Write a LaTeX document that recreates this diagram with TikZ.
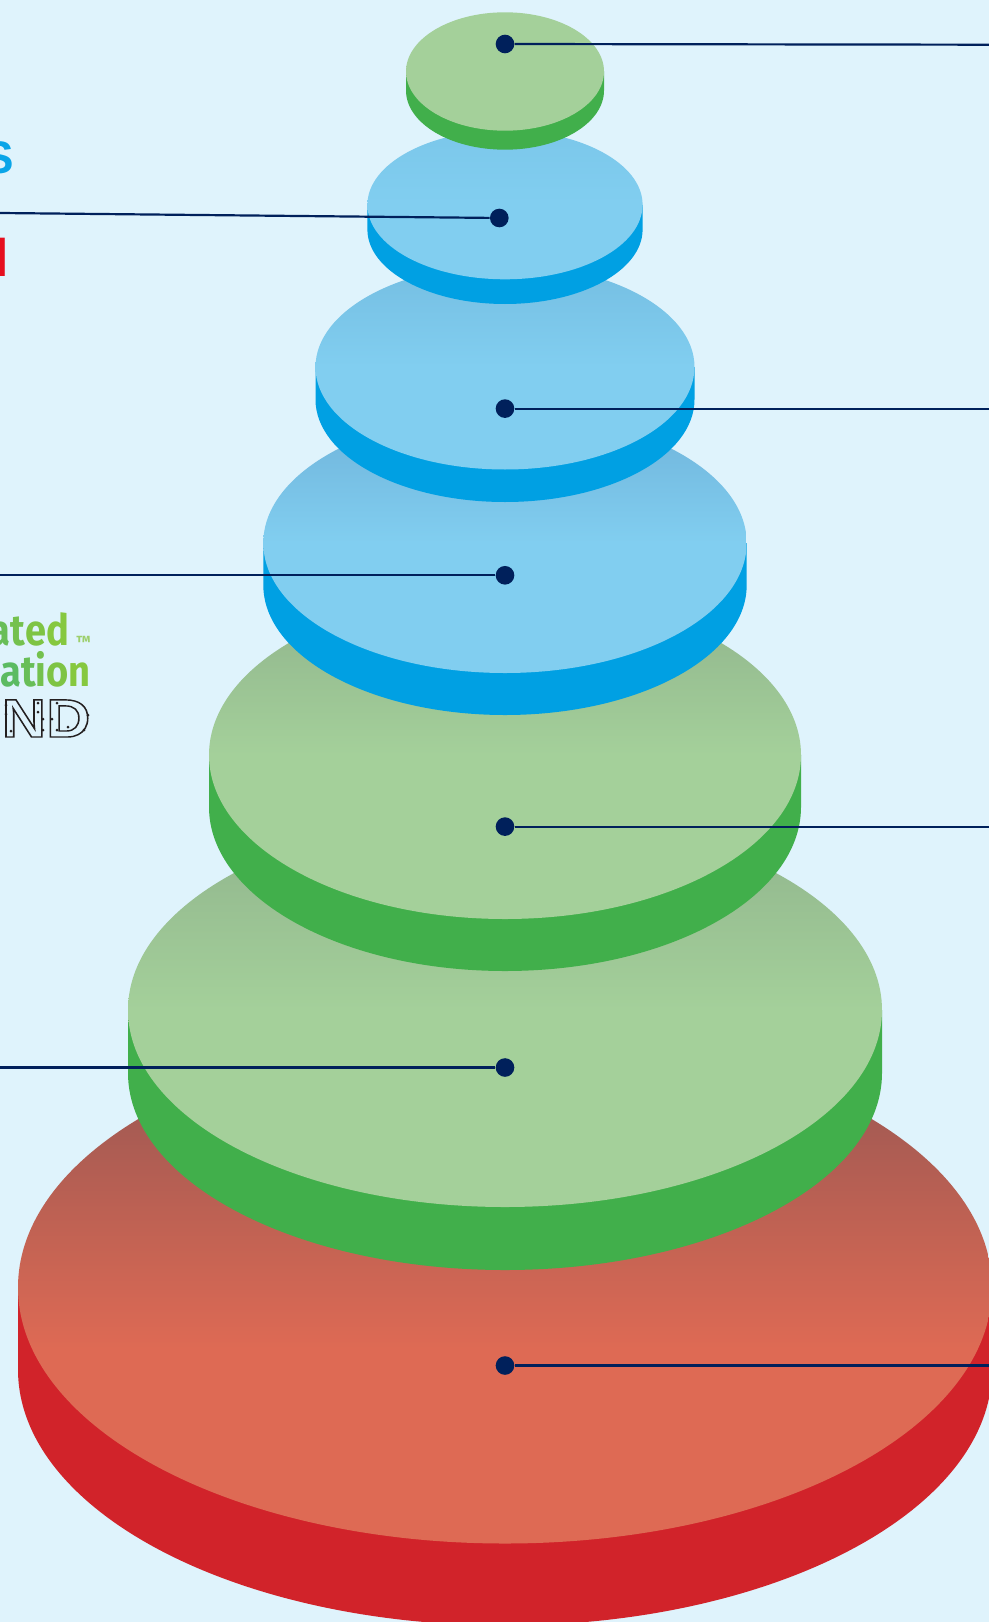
\documentclass[tikz,border=0pt]{standalone}
\usepackage{fontspec}
\setmainfont{Liberation Sans}
\newfontfamily\firafont{Fira Sans}
\definecolor{SkyBack}{RGB}{223,243,252}
\definecolor{DiskNavy}{RGB}{0,32,91}
\definecolor{RedSide}{RGB}{209,35,42}
\definecolor{RedFace}{RGB}{222,106,84}
\definecolor{RedDark}{RGB}{145,85,82}
\definecolor{GreenSide}{RGB}{65,175,75}
\definecolor{GreenFace}{RGB}{164,208,154}
\definecolor{GreenDark}{RGB}{143,179,140}
\definecolor{BlueSide}{RGB}{0,160,227}
\definecolor{BlueFace}{RGB}{129,206,240}
\definecolor{BlueDark}{RGB}{111,179,218}
\definecolor{BlueMid}{RGB}{117,190,226}
\definecolor{BlueSoft}{RGB}{123,199,234}
\definecolor{TagBlue}{RGB}{10,165,232}
\definecolor{TagRed}{RGB}{230,14,30}
\definecolor{TagLight}{RGB}{156,207,107}
\definecolor{TagA}{RGB}{92,187,98}
\definecolor{TagB}{RGB}{104,190,88}
\definecolor{TagC}{RGB}{116,193,78}
\definecolor{TagD}{RGB}{126,196,68}
\definecolor{TagE}{RGB}{134,200,63}
\definecolor{LogoInk}{RGB}{35,31,32}
\pgfdeclareverticalshading{redshade}{100bp}{color(0bp)=(RedFace); color(44bp)=(RedFace); color(75bp)=(RedDark); color(100bp)=(RedDark)}
\pgfdeclareverticalshading{greenshade}{100bp}{color(0bp)=(GreenFace); color(50bp)=(GreenFace); color(75bp)=(GreenDark); color(100bp)=(GreenDark)}
\pgfdeclareverticalshading{greenplain}{100bp}{color(0bp)=(GreenFace); color(100bp)=(GreenFace)}
\pgfdeclareverticalshading{blueshade}{100bp}{color(0bp)=(BlueFace); color(50bp)=(BlueFace); color(75bp)=(BlueDark); color(100bp)=(BlueDark)}
\pgfdeclareverticalshading{bluemid}{100bp}{color(0bp)=(BlueFace); color(50bp)=(BlueFace); color(75bp)=(BlueMid); color(100bp)=(BlueMid)}
\pgfdeclareverticalshading{bluesoft}{100bp}{color(0bp)=(BlueFace); color(50bp)=(BlueFace); color(75bp)=(BlueSoft); color(100bp)=(BlueSoft)}
\tikzset{
  dotpin/.style={circle, fill=DiskNavy, inner sep=0pt, minimum size=10.6pt},
  leaderline/.style={draw=DiskNavy, line width=1.25pt},
  cuttag/.style={font=\bfseries, inner sep=0pt, anchor=base east},
  greentag/.style={font=\firafont\bfseries\fontsize{24.6}{26}\selectfont, inner sep=0pt,
                   anchor=base east, xscale=.88, transform shape},
}
\newcommand{\outlinetext}[1]{\special{pdf:code 1 Tr 0.8 w}#1\special{pdf:code 0 Tr}}
\begin{document}
\begin{tikzpicture}[x=0.02cm, y=-0.02cm]
  \useasboundingbox (0,0) rectangle (989,1622);
  \clip (0,0) rectangle (989,1622);
  \fill[SkyBack] (0,0) rectangle (989,1622);

  % ------------------------------------------------------------------ disks, bottom to top
  \foreach \cy/\rx/\ry/\dep/\side/\face in {
      1287.5/487/256/82/RedSide/redshade,
      1010/377/197/63/GreenSide/greenshade,
      755/296/164/52/GreenSide/greenshade,
      543/241.7/130/42/BlueSide/blueshade,
      367/189.5/102.5/32.5/BlueSide/bluemid,
      204.8/137.6/74.5/24.7/BlueSide/bluesoft,
      71.5/99/59.2/19/GreenSide/greenplain}{
    \fill[\side] (505-\rx,\cy) -- ++(0,\dep) arc[start angle=180, end angle=0, x radius=\rx, y radius=\ry]
      -- ++(0,-\dep) -- cycle;
    \shade[shading=\face] (505,\cy) ellipse[x radius=\rx, y radius=\ry];
  }

  % ------------------------------------------------------------------ cut off labels
  \node[cuttag, text=TagBlue, font=\bfseries\fontsize{26}{28}\selectfont] (tagblue) at (14.5,174) {S};
  \node[cuttag, text=TagRed, font=\bfseries\fontsize{31.7}{33}\selectfont] (tagred) at (8.9,276.7) {I};
  \node[greentag] (tagated) at (69.5,645)
    {{\color{TagB}a}{\color{TagC}t}{\color{TagD}e}{\color{TagE}d}};
  \node[greentag] (tagation) at (91,686)
    {{\color{TagA}a}{\color{TagB}t}{\color{TagC}i}{\color{TagD}o}{\color{TagE}n}};
  \node[font=\firafont\bfseries\fontsize{9.2}{10}\selectfont, text=TagLight, inner sep=0pt, anchor=east] (tagtm) at (91,642) {™};
  % outlined logo letters with their small dots
  \node[inner sep=0pt, anchor=base west, text=LogoInk, xscale=1.13, transform shape,
        font=\bfseries\fontsize{30.7}{32}\selectfont] (tagnd) at (1.5,737)
    {\outlinetext{N\kern.2pt D}};
  \foreach \x/\y in {6/705, 6/714, 11/731, 38/703, 38/712, 43/719, 43/730, 57/703, 52/719, 57/730, 68/727, 84/730, 88/715}{
    \fill[LogoInk] (\x,\y) circle[radius=1.5];
  }

  % ------------------------------------------------------------------ pins and leaders
  \foreach \i/\x/\y in {1/505/44, 2/499.3/218, 3/505/408.6, 4/505/575.3, 5/505/826.6, 6/505/1067.5, 7/505/1365.5}{
    \node[dotpin] (pin\i) at (\x,\y) {};
  }
  \coordinate (edge1) at (989,44.7);
  \coordinate (edge2) at (0,213);
  \coordinate (edge3) at (989,408.6);
  \coordinate (edge4) at (0,575.3);
  \coordinate (edge5) at (989,826.6);
  \coordinate (edge6) at (0,1067.5);
  \coordinate (edge7) at (989,1365.5);
  \foreach \i in {1,...,7}{
    \draw[leaderline] (pin\i) -- (edge\i);
  }
\end{tikzpicture}
\end{document}
